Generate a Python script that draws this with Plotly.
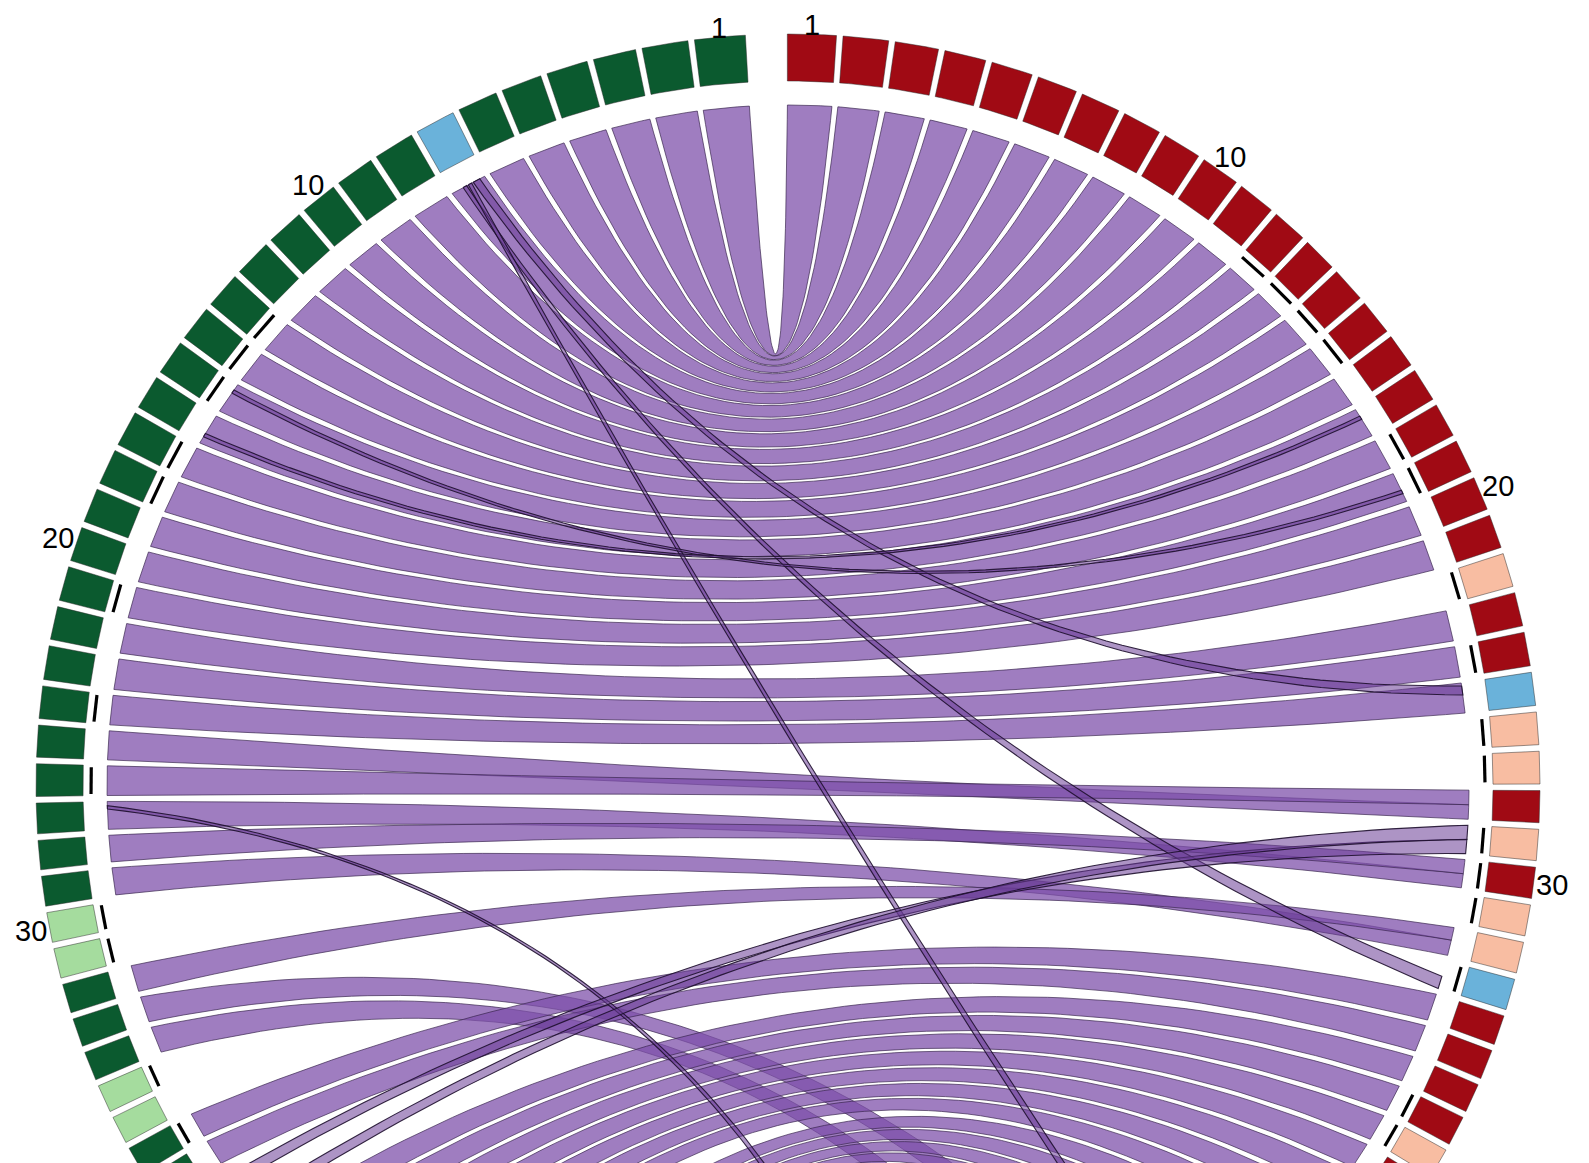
import numpy as np
import plotly.graph_objects as go

# ---------------- data ----------------
# segment lengths (arbitrary units) going away from the top gap
left_len = [4.4, 4.05, 3.8, 3.7, 3.65, 3.6, 3.6, 3.65, 3.5, 3.35,
            3.4, 3.4, 3.3, 3.25, 3.2, 3.15, 3.25, 3.25, 3.15, 3.15,
            3.15, 3.05, 3.1, 3.0, 2.95, 3.0, 2.85, 2.75, 2.8, 2.8,
            2.8, 2.75, 2.7, 2.75, 2.65, 2.65, 2.65,
            2.7, 2.7, 2.7, 2.7, 2.7, 2.7, 2.7, 2.7, 2.7, 2.7,
            2.7, 2.7, 2.7, 2.7, 2.7, 2.7, 2.7, 2.7, 2.7]
right_len = [4.25, 4.0, 3.85, 3.7, 3.7, 3.6, 3.55, 3.5, 3.5, 3.5,
             3.4, 3.2, 3.15, 3.2, 3.25, 3.15, 3.1, 3.15, 3.1, 3.1,
             3.1, 3.1, 3.1, 3.1, 3.05, 3.0, 3.0, 2.95, 2.9, 2.9,
             2.9, 2.9, 2.9, 2.8, 2.8, 2.75, 2.8, 2.8,
             2.75, 2.75, 2.75, 2.75, 2.75, 2.75, 2.75, 2.75, 2.75, 2.75,
             2.75, 2.75, 2.75, 2.75, 2.75, 2.75, 2.75, 2.75, 2.75, 2.75]
# segment classes: G dark green, g light green, B blue, R dark red, P peach
left_type = ("GGGGGGB" + "G" * 22 + "gg" + "GGG" + "gg" + "G" + "G" + "gg"
             + "GGGGGGGBGGGGgGGGG")
right_type = ("R" * 21 + "P" + "RR" + "B" + "PP" + "R" + "P" + "R" + "PP" + "B"
              + "RRRR" + "P" + "RRRRRRRRBRRRRPRRRRRR")
left_marked = [13, 14, 15, 17, 18, 21, 24, 26, 30, 31, 35, 37]
right_marked = [12, 13, 14, 15, 18, 19, 22, 24, 26, 27, 29, 30, 31, 33, 37, 38]
left_labels = [1, 10, 20, 30]
right_labels = [1, 10, 20, 30]

# links: (left seg, right seg, left from, left to, right from, right to)
wide_links = [(k, k, 0, 1, 0, 1) for k in range(1, 22)] + [
    (22, 23, 0, 1, 0, 1), (23, 24, 0, 1, 0, 1), (24, 25, 0, 1, 0, 1),
    (25, 28, 0, 1, 0.5, 1), (26, 28, 0, 1, 0, 0.5),
    (27, 30, 0, 1, 0.5, 1), (28, 30, 0, 1, 0, 0.5),
    (29, 32, 0, 1, 0.45, 1), (32, 32, 0, 1, 0, 0.45),
    (33, 48, 0, 1, 0, 1), (34, 50, 0, 1, 0, 1),
    (37, 34, 0, 1, 0, 1), (38, 35, 0, 1, 0, 1), (41, 36, 0, 1, 0, 1),
    (42, 37, 0, 1, 0, 1), (43, 38, 0, 1, 0, 1), (44, 39, 0, 1, 0, 1),
    (45, 40, 0, 1, 0, 1), (46, 41, 0, 1, 0, 1), (47, 42, 0, 1, 0, 1),
    (49, 43, 0, 1, 0, 1), (50, 44, 0, 1, 0, 1), (51, 45, 0, 1, 0, 1),
    (52, 46, 0, 1, 0, 1), (53, 49, 0, 1, 0, 1), (54, 51, 0, 1, 0, 1),
    (55, 52, 0, 1, 0, 1), (56, 53, 0, 1, 0, 1),
]
thin_links = [
    (7, 25, 0.15, 0.35, 0.1, 0.4),
    (7, 33, 0.55, 0.66, 0.55, 1.0),
    (7, 47, 0.4, 0.5, 0.3, 0.6),
    (15, 19, 0.2, 0.32, 0.6, 0.72),
    (16, 17, 0.65, 0.77, 0.25, 0.37),
    (27, 56, 0.15, 0.27, 0.3, 0.6),
    (39, 29, 0.3, 0.7, 0.5, 1.0),
    (40, 29, 0.3, 0.7, 0.0, 0.5),
]

# ---------------- geometry ----------------
R_OUT, R_IN, R_LINK, R_MARK = 752, 705, 681, 697
K_CTRL = 0.27
GAP = 0.25
COL = {"G": "#0b5a2f", "g": "#a5dc9e", "B": "#6ab2da",
       "R": "#a00a14", "P": "#f8bda2"}
FONT_SIZE = 29


def spans(lengths, start, sign):
    out, pos = [], start
    for L in lengths:
        a, b = sign * (pos + GAP), sign * (pos + L - GAP)
        out.append((min(a, b), max(a, b)))
        pos += L
    return out


LS = spans(left_len, 3.0, -1)
RS = spans(right_len, -0.3, 1)


def pt(r, a):
    t = np.radians(a)
    return np.array([r * np.sin(t), r * np.cos(t)])


def arc(r, a0, a1):
    n = max(3, int(abs(a1 - a0) * 4) + 2)
    t = np.radians(np.linspace(a0, a1, n))
    return r * np.sin(t), r * np.cos(t)


def bez(p0, p2, n=70):
    c = K_CTRL * (p0 + p2) / 2
    t = np.linspace(0, 1, n)[:, None]
    p = (1 - t) ** 2 * p0 + 2 * t * (1 - t) * c + t ** 2 * p2
    return p[:, 0], p[:, 1]


def sub(span, f0, f1, side):
    lo, hi = span
    if side == "L":  # fractions measured away from the top
        a, b = hi - f0 * (hi - lo), hi - f1 * (hi - lo)
    else:
        a, b = lo + f0 * (hi - lo), lo + f1 * (hi - lo)
    return min(a, b), max(a, b)


def ribbon(l, r, lf0, lf1, rf0, rf1):
    alo, ahi = sub(LS[l - 1], lf0, lf1, "L")
    blo, bhi = sub(RS[r - 1], rf0, rf1, "R")
    xs, ys = [], []
    x, y = arc(R_LINK, alo, ahi); xs += list(x); ys += list(y)
    x, y = bez(pt(R_LINK, ahi), pt(R_LINK, blo)); xs += list(x); ys += list(y)
    x, y = arc(R_LINK, blo, bhi); xs += list(x); ys += list(y)
    x, y = bez(pt(R_LINK, bhi), pt(R_LINK, alo)); xs += list(x); ys += list(y)
    return xs, ys


fig = go.Figure()

# ribbons
for lk in wide_links:
    xs, ys = ribbon(*lk)
    fig.add_trace(go.Scatter(x=xs, y=ys, mode="lines", fill="toself",
                             fillcolor="rgba(126,80,170,0.74)",
                             line=dict(color="rgba(55,35,75,0.85)", width=0.8),
                             hoverinfo="skip"))
for lk in thin_links:
    xs, ys = ribbon(*lk)
    fig.add_trace(go.Scatter(x=xs, y=ys, mode="lines", fill="toself",
                             fillcolor="rgba(105,60,150,0.55)",
                             line=dict(color="rgba(30,15,45,0.9)", width=1.1),
                             hoverinfo="skip"))

# segment blocks
for code, colr in COL.items():
    xs, ys = [], []
    for spanlist, types in ((LS, left_type), (RS, right_type)):
        for (lo, hi), t in zip(spanlist, types):
            if t != code:
                continue
            x1, y1 = arc(R_OUT, lo, hi)
            x2, y2 = arc(R_IN, hi, lo)
            xs += list(x1) + list(x2) + [x1[0], None]
            ys += list(y1) + list(y2) + [y1[0], None]
    fig.add_trace(go.Scatter(x=xs, y=ys, mode="lines", fill="toself",
                             fillcolor=colr,
                             line=dict(color="rgba(40,40,40,0.6)", width=0.8),
                             hoverinfo="skip"))

# black marks between the link ring and the blocks
mx, my = [], []
for idx in left_marked:
    lo, hi = LS[idx - 1]
    x, y = arc(R_MARK, lo + 0.15, hi - 0.15)
    mx += list(x) + [None]; my += list(y) + [None]
for idx in right_marked:
    lo, hi = RS[idx - 1]
    x, y = arc(R_MARK, lo + 0.15, hi - 0.15)
    mx += list(x) + [None]; my += list(y) + [None]
fig.add_trace(go.Scatter(x=mx, y=my, mode="lines",
                         line=dict(color="black", width=3.2), hoverinfo="skip"))

# labels: centre placed so that the text box just clears the blocks
for spanlist, labs in ((LS, left_labels), (RS, right_labels)):
    for n in labs:
        lo, hi = spanlist[n - 1]
        a = (lo + hi) / 2
        half_w = 0.28 * FONT_SIZE * len(str(n))
        half_h = 0.37 * FONT_SIZE
        s, c = abs(np.sin(np.radians(a))), abs(np.cos(np.radians(a)))
        r = 753 + half_w * s + half_h * c - 3 * c
        p = pt(r, a)
        fig.add_annotation(x=p[0], y=p[1], text=str(n), showarrow=False,
                           font=dict(family="Liberation Sans, Arial",
                                     size=FONT_SIZE, color="black"),
                           xanchor="center", yanchor="middle", borderpad=0)

# page body has an 8px margin: size the figure to the remaining area
fig.update_layout(width=1581, height=1155, margin=dict(l=0, r=0, t=0, b=0),
                  paper_bgcolor="white", plot_bgcolor="white",
                  showlegend=False,
                  xaxis=dict(range=[-780, 801], visible=False, fixedrange=True),
                  yaxis=dict(range=[-377, 778], visible=False, fixedrange=True))
fig.write_html("out.html")
